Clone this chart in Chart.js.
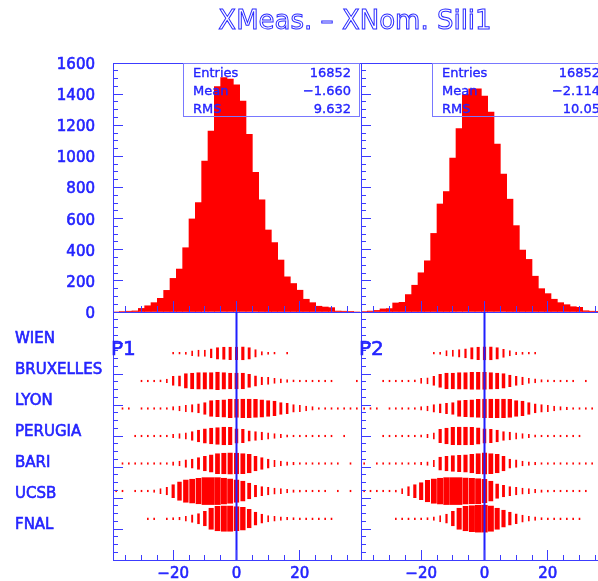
<!DOCTYPE html>
<html>
<head>
<meta charset="utf-8">
<script src="https://cdn.jsdelivr.net/npm/chart.js@4.4.1/dist/chart.umd.min.js"></script>
<style>
  html, body { margin:0; padding:0; background:#fff; }
  #wrap { position:relative; width:598px; height:581px; overflow:hidden; background:#fff; font-family:"DejaVu Sans", sans-serif; }
  #wrap canvas { position:absolute; }
  .title { position:absolute; left:355px; top:5px; transform:translateX(-50%); font-size:26px; line-height:30px; white-space:nowrap; color:#fff; -webkit-text-stroke:1px #2b2bff; }
  .plab { position:absolute; font-size:20px; line-height:20px; color:#2424ff; -webkit-text-stroke:0.6px #2424ff; }
  .stats { position:absolute; top:63px; width:177px; height:54px; box-sizing:border-box; border:1px solid #7878ff; font-size:13px; color:#2424ff; -webkit-text-stroke:0.35px #2424ff; }
  .stats div { position:absolute; left:9px; right:8px; height:18px; line-height:18px; white-space:nowrap; }
  .stats span.v { position:absolute; right:0; top:0; }
</style>
</head>
<body>
<div id="wrap">
  <canvas id="h1" width="362" height="320" style="left:0;top:30px"></canvas>
  <canvas id="h2" width="270" height="320" style="left:351px;top:30px"></canvas>
  <canvas id="b1" width="362" height="300" style="left:0;top:300px"></canvas>
  <canvas id="b2" width="270" height="300" style="left:351px;top:300px"></canvas>
  <div class="title">XMeas. – XNom. Sili1</div>
  <div class="plab" style="left:111px;top:338px">P1</div>
  <div class="plab" style="left:359px;top:338px">P2</div>
  <div class="stats" id="s1" style="left:183px"></div>
  <div class="stats" id="s2" style="left:432px"></div>
</div>
<script>
// ---------------- data ----------------
const binCenters = [-38,-36,-34,-32,-30,-28,-26,-24,-22,-20,-18,-16,-14,-12,-10,-8,-6,-4,-2,0,2,4,6,8,10,12,14,16,18,20,22,24,26,28,30,32,34,36,38];

const histP1 = [0,3,5,7,23,40,60,88,139,216,276,413,598,703,970,1163,1448,1506,1497,1460,1356,1141,898,721,527,446,334,226,183,140,82,60,37,32,28,6,5,4,0];
const histP2 = [3,6,10,20,22,58,62,112,172,252,329,505,694,774,989,1178,1397,1434,1434,1387,1284,1079,886,725,555,398,338,230,150,118,82,60,47,34,30,8,5,2,0];

const rowNames = ['WIEN','BRUXELLES','LYON','PERUGIA','BARI','UCSB','FNAL'];

const p1Wien      = [0,0,0,0,0,0,0,0,0,1,2,4,18,28,28,54,89,97,101,101,110,89,40,10,4,3,0,2,0,0,0,0,0,0,0,0,0,0,0];
const p1Bruxelles = [0,0,0,0,1,1,3,4,10,54,70,133,158,169,175,175,192,175,158,158,158,110,70,40,34,18,13,7,4,3,2,2,1,1,1,0,0,0,1];
const p1Lyon      = [0,1,1,0,1,2,2,4,4,10,18,28,40,54,89,158,169,186,216,203,216,216,203,186,158,133,89,70,40,28,18,10,4,3,2,1,1,1,1];
const p1Perugia   = [0,0,0,1,1,1,2,3,4,10,18,28,54,89,133,158,175,203,186,133,110,70,54,40,28,18,10,6,4,3,2,1,1,1,1,0,1,0,0];
const p1Bari      = [0,1,1,1,1,2,2,3,4,10,18,40,54,89,133,186,248,268,282,268,248,216,133,89,54,28,18,10,6,4,3,2,1,1,1,1,0,1,0];
const p1Ucsb      = [1,1,0,1,2,3,6,18,40,110,216,318,356,397,440,440,440,414,372,318,248,158,89,54,40,28,18,10,6,4,3,2,1,1,0,1,0,1,0];
const p1Fnal      = [0,0,0,0,0,1,1,0,1,4,6,18,40,70,133,282,372,397,397,356,318,216,110,54,28,18,10,6,4,3,2,2,1,1,1,0,0,0,0];

const p2Wien      = [0,0,0,0,0,0,0,0,0,0,0,2,4,21,28,40,54,89,101,110,110,89,45,21,6,4,2,2,0,0,0,0,0,0,0,0,0,0,0];
const p2Bruxelles = [0,0,0,1,1,2,2,3,4,18,28,54,110,158,158,169,169,186,186,186,169,158,133,89,54,40,18,13,6,4,3,2,2,2,0,2,0,0,0];
const p2Lyon      = [1,1,1,0,1,1,2,3,4,10,18,40,54,70,89,158,169,186,203,216,216,216,216,203,158,133,89,54,40,28,18,10,6,4,2,2,1,0,0];
const p2Perugia   = [0,0,0,1,1,1,2,2,4,6,10,28,110,158,186,203,203,186,169,133,110,89,54,40,28,18,10,6,4,3,2,2,1,1,1,0,0,0,0];
const p2Bari      = [1,0,1,1,1,1,2,2,4,6,10,28,110,133,158,169,186,216,248,282,248,216,133,54,40,18,10,6,4,3,2,2,1,1,1,1,1,0,0];
const p2Ucsb      = [1,1,1,1,2,4,18,54,110,186,282,372,414,440,440,440,423,406,389,341,248,133,89,54,40,28,18,10,6,4,3,2,2,1,1,1,0,0,0];
const p2Fnal      = [0,0,0,0,0,1,1,1,2,3,4,10,28,54,133,282,372,414,440,440,397,282,186,110,64,34,18,10,4,3,2,1,1,1,1,0,0,0,0];

const histYTicks = [0,200,400,600,800,1000,1200,1400,1600];
const xTickValues = [-20,0,20];
const statsLabels = ['Entries','Mean','RMS'];
const statsP1 = ['16852','\u22121.660','9.632'];
const statsP2 = ['16852','\u22122.114','10.05'];

// ---------------- style ----------------
const RED = '#ff0000';
const AXIS = '#3c3cff';
const TEXT = '#2424ff';
const FONT = 'DejaVu Sans';
Chart.defaults.font.family = FONT;

function steps(a, b, st) { const out = []; for (let v = a; v <= b + 1e-9; v += st) out.push(Math.round(v * 1000) / 1000); return out; }
const xMinor = steps(-35, 35, 5);
const histYMinor = steps(50, 1550, 50);
const rowMajor = steps(1, 7, 1);
const rowMinor = steps(0.25, 7.75, 0.25);

function tickAxis(axis, position, min, max, values, len, o) {
  o = o || {};
  return {
    type: 'linear', axis: axis, position: position, min: min, max: max,
    reverse: !!o.reverse, offset: false, display: true, weight: o.weight || 0,
    afterBuildTicks: s => { s.ticks = values.map(v => ({value: v})); },
    ticks: { display: false, autoSkip: false },
    grid: { offset: false, drawOnChartArea: false, drawTicks: len > 0, tickLength: -len, tickColor: AXIS, tickWidth: 1, z: 1 },
    border: { display: !!o.border, color: AXIS, width: 1, z: 1 },
    afterFit: s => { if (axis === 'x') s.height = o.size || 0; else s.width = o.size || 0; }
  };
}

function baseOptions(pad) {
  return {
    responsive: false, animation: false, events: [],
    layout: { padding: pad },
    plugins: { legend: false, tooltip: false, title: false }
  };
}

const labelFont = { family: FONT, size: 15 };

function makeHist(id, counts, showLabels, leftW, padL, padR) {
  const opts = baseOptions({ left: padL, right: padR, top: 33, bottom: 0 });
  opts.scales = {
    x: tickAxis('x', 'bottom', -39, 39, xTickValues, 11, { border: true, size: 38, weight: 2 }),
    xm: tickAxis('x', 'bottom', -39, 39, xMinor, 6, { weight: 1 }),
    xt: tickAxis('x', 'top', -39, 39, [], 0, { border: true }),
    y: {
      type: 'linear', axis: 'y', position: 'left', min: 0, max: 1600, weight: 2, display: true,
      afterBuildTicks: s => { s.ticks = histYTicks.map(v => ({value: v})); },
      ticks: { display: showLabels, padding: 18, labelOffset: 2, color: TEXT, font: labelFont,
               textStrokeColor: TEXT, textStrokeWidth: 0.6, autoSkip: false, callback: v => String(v) },
      grid: { drawOnChartArea: false, drawTicks: false },
      border: { display: false },
      afterFit: s => { s.width = leftW; }
    },
    yM: tickAxis('y', 'left', 0, 1600, histYTicks, 10, { border: true, weight: 1 }),
    ym: tickAxis('y', 'left', 0, 1600, histYMinor, 5, { weight: 0 })
  };
  return new Chart(document.getElementById(id), {
    type: 'bar',
    data: { datasets: [{
      data: binCenters.map((x, i) => ({ x: x, y: counts[i] })),
      backgroundColor: RED, borderWidth: 0, barPercentage: 1, categoryPercentage: 1, grouped: false
    }] },
    options: opts
  });
}

function makeBoxes(id, rows, showLabels, leftW, padL, padR) {
  const cmax = Math.max(...rows.map(r => Math.max(...r)));
  const datasets = rows.map((row, r) => ({
    type: 'bar', xAxisID: 'x', yAxisID: 'yb', order: 2, grouped: false,
    data: row.map((c, i) => ({ c: c, i: i })).filter(o => o.c > 0).map(o => {
      const s = Math.sqrt(o.c / cmax);
      const h = Math.max(s, 0.09);
      return { x: binCenters[o.i], y: [r + 1.5 - h / 2, r + 1.5 + h / 2], s: s };
    }),
    backgroundColor: RED, borderColor: 'rgba(0,0,0,0)', borderSkipped: false, inflateAmount: 0,
    barPercentage: 1, categoryPercentage: 1,
    borderWidth: ctx => {
      const s = (ctx.raw && ctx.raw.s != null) ? ctx.raw.s : 1;
      const sc = ctx.chart.scales && ctx.chart.scales.x;
      const W = sc ? Math.abs(sc.getPixelForValue(2) - sc.getPixelForValue(0)) : 6;
      const w = Math.max(s * W, 1.6);
      const side = Math.max(0, (W - w) / 2);
      return { left: side, right: side, top: 0, bottom: 0 };
    }
  }));
  datasets.push({
    type: 'line', xAxisID: 'x', yAxisID: 'yb', order: 0,
    data: [{ x: 0, y: 0 }, { x: 0, y: 9 }],
    borderColor: '#1f1fff', borderWidth: 2, pointRadius: 0, fill: false
  });
  const opts = baseOptions({ left: padL, right: padR, top: 12, bottom: 0 });
  opts.scales = {
    x: {
      type: 'linear', axis: 'x', position: 'bottom', min: -39, max: 39, offset: false, weight: 2, display: true,
      afterBuildTicks: s => { s.ticks = xTickValues.map(v => ({value: v})); },
      ticks: { display: true, padding: 15, maxRotation: 0, autoSkip: false, color: TEXT, font: labelFont,
               textStrokeColor: TEXT, textStrokeWidth: 0.6,
               callback: v => v < 0 ? '\u2212' + (-v) : String(v) },
      grid: { offset: false, drawOnChartArea: false, tickLength: -10, tickColor: AXIS, z: 1 },
      border: { display: true, color: AXIS, z: 1 },
      afterFit: s => { s.height = 40; }
    },
    xm: tickAxis('x', 'bottom', -39, 39, xMinor, 5, { weight: 1 }),
    yb: { type: 'linear', axis: 'y', display: false, min: 0, max: 9, reverse: true },
    yl: {
      type: 'linear', axis: 'y', position: 'left', min: 0, max: 8, reverse: true, weight: 2, display: true,
      afterBuildTicks: s => { s.ticks = rowMajor.map(v => ({value: v})); },
      ticks: { display: showLabels, crossAlign: 'far', padding: 0, labelOffset: -4, color: TEXT, font: labelFont,
               textStrokeColor: TEXT, textStrokeWidth: 0.6,
               autoSkip: false, callback: v => rowNames[Math.round(v) - 1] },
      grid: { drawOnChartArea: false, drawTicks: false },
      border: { display: false },
      afterFit: s => { s.width = leftW; }
    },
    yM: tickAxis('y', 'left', 0, 8, rowMajor, 10, { border: true, weight: 1, reverse: true }),
    ym: tickAxis('y', 'left', 0, 8, rowMinor, 5, { weight: 0, reverse: true })
  };
  return new Chart(document.getElementById(id), { type: 'bar', data: { datasets: datasets }, options: opts });
}

makeHist('h1', histP1, true, 113, 0, 2);
makeHist('h2', histP2, false, 10, 0, 13);
makeBoxes('b1', [p1Wien, p1Bruxelles, p1Lyon, p1Perugia, p1Bari, p1Ucsb, p1Fnal], true, 98, 15, 2);
makeBoxes('b2', [p2Wien, p2Bruxelles, p2Lyon, p2Perugia, p2Bari, p2Ucsb, p2Fnal], false, 10, 0, 13);

function fillStats(id, values) {
  const box = document.getElementById(id);
  statsLabels.forEach((lab, i) => {
    const row = document.createElement('div');
    row.style.top = (18 * i) + 'px';
    row.textContent = lab;
    const v = document.createElement('span');
    v.className = 'v';
    v.textContent = values[i];
    row.appendChild(v);
    box.appendChild(row);
  });
}
fillStats('s1', statsP1);
fillStats('s2', statsP2);
</script>
</body>
</html>
